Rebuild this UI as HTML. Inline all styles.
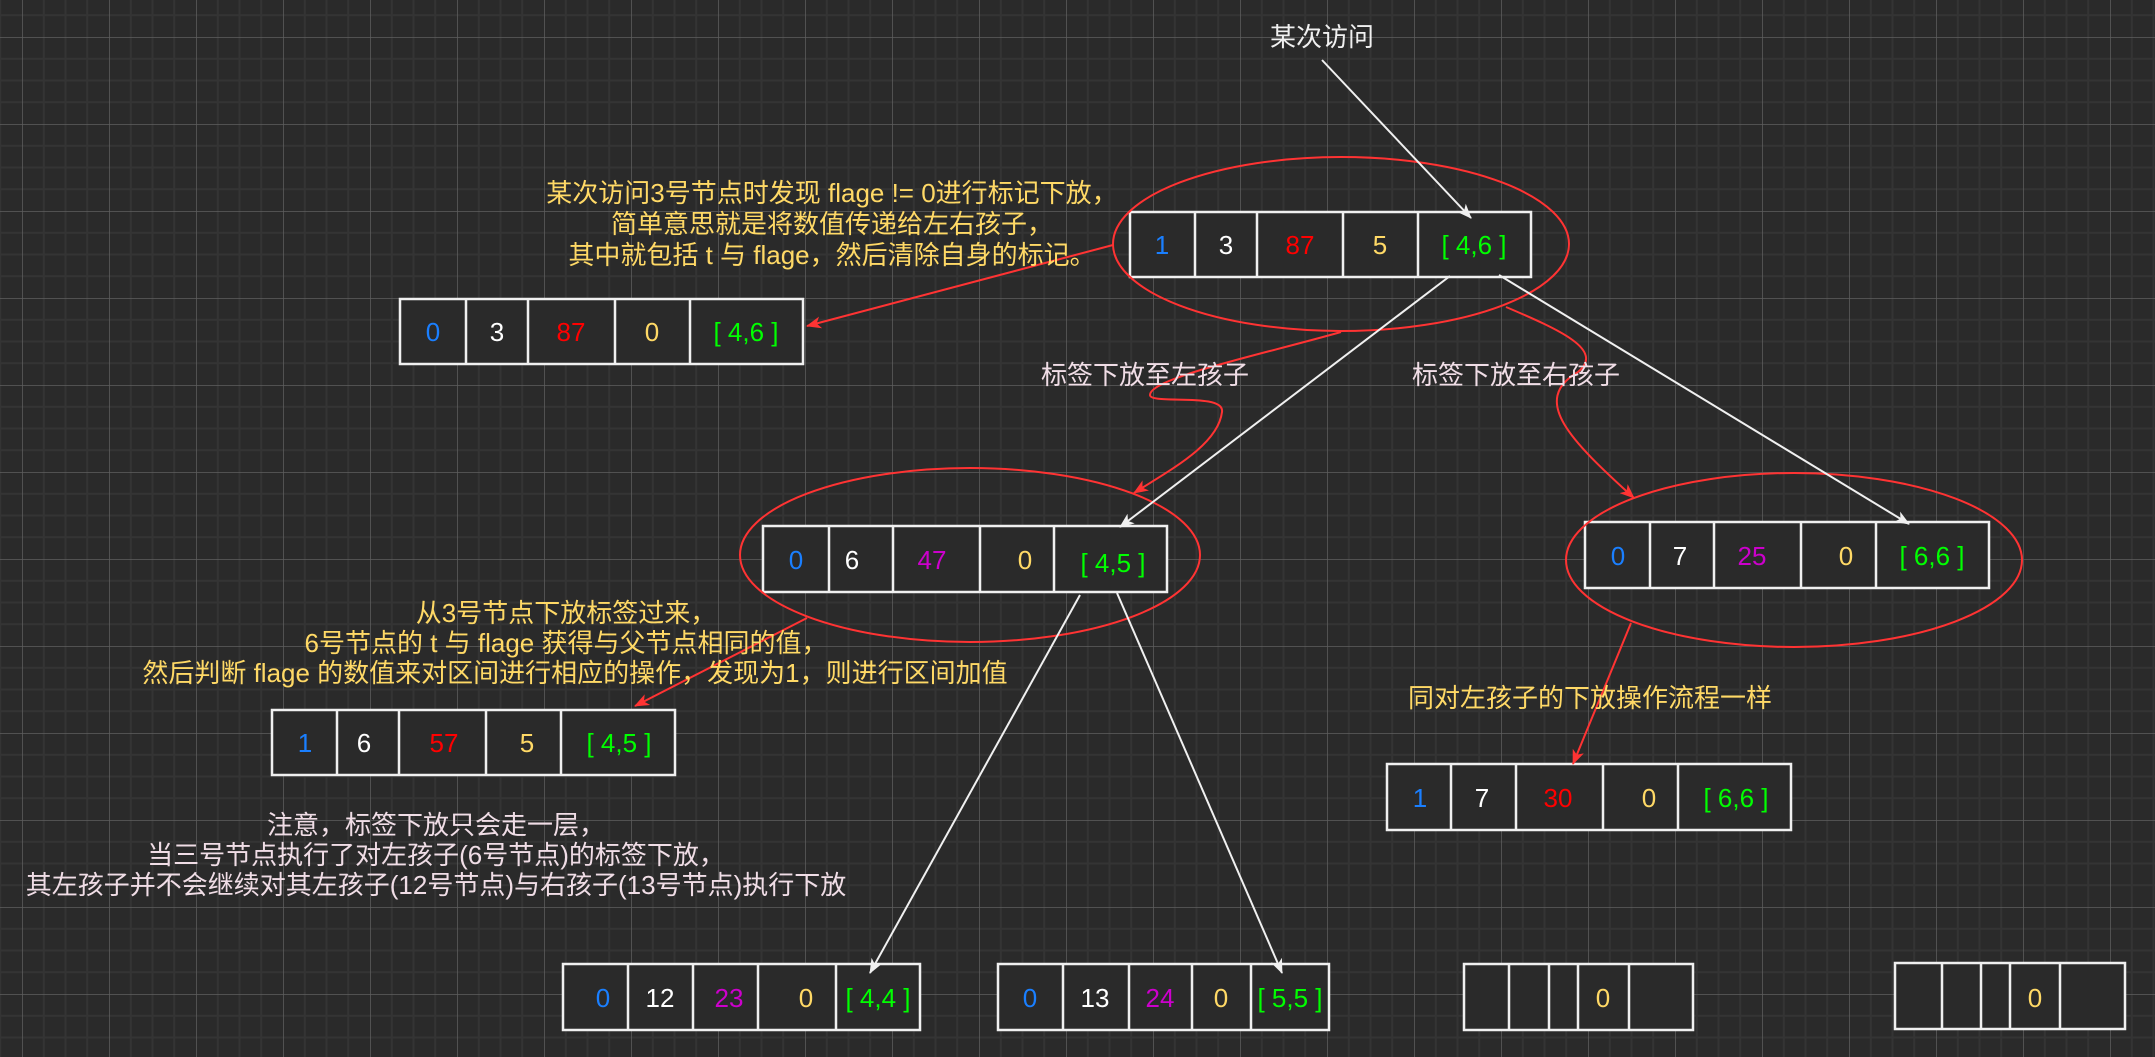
<!DOCTYPE html>
<html><head><meta charset="utf-8"><style>
html,body{margin:0;padding:0;background:#2a2a2a;}
svg{display:block;}
text{font-family:"Liberation Sans","Noto Sans CJK SC",sans-serif;}
</style></head><body>
<svg width="2155" height="1057" viewBox="0 0 2155 1057" xmlns="http://www.w3.org/2000/svg">
<defs>
<pattern id="g" x="22" y="37" width="87" height="87" patternUnits="userSpaceOnUse">
<path d="M21.75 0V87M43.5 0V87M65.25 0V87M0 21.75H87M0 43.5H87M0 65.25H87" stroke="#343434" stroke-width="2" fill="none"/>
<path d="M0 0V87M0 0H87" stroke="#5e5e5e" stroke-width="1.5" fill="none"/>
</pattern>
<marker id="aw" markerWidth="16" markerHeight="12" refX="14" refY="6" orient="auto" markerUnits="userSpaceOnUse"><path d="M0,0 L15,6 L0,12 L4,6z" fill="#f0f0f0"/></marker>
<marker id="ar" markerWidth="16" markerHeight="12" refX="14" refY="6" orient="auto" markerUnits="userSpaceOnUse"><path d="M0,0 L15,6 L0,12 L4,6z" fill="#ff3333"/></marker>
</defs>
<rect width="2155" height="1057" fill="#2a2a2a"/>
<rect width="2155" height="1057" fill="url(#g)"/>

<g fill="#2a2a2a" stroke="#f0f0f0" stroke-width="2.5">
<rect x="1130" y="212" width="401" height="65"/><path d="M1195 212V277M1257 212V277M1343 212V277M1418 212V277"/>
<rect x="400" y="299" width="403" height="65"/><path d="M466 299V364M528 299V364M615 299V364M690 299V364"/>
<rect x="763" y="526" width="404" height="66"/><path d="M829 526V592M893 526V592M980 526V592M1054 526V592"/>
<rect x="1585" y="522" width="404" height="66"/><path d="M1650 522V588M1714 522V588M1801 522V588M1876 522V588"/>
<rect x="272" y="710" width="403" height="65"/><path d="M337 710V775M399 710V775M486 710V775M561 710V775"/>
<rect x="1387" y="764" width="404" height="66"/><path d="M1451 764V830M1516 764V830M1603 764V830M1678 764V830"/>
<rect x="563" y="964" width="357" height="66"/><path d="M628 964V1030M693 964V1030M758 964V1030M836 964V1030"/>
<rect x="998" y="964" width="331" height="66"/><path d="M1063 964V1030M1129 964V1030M1192 964V1030M1251 964V1030"/>
<rect x="1464" y="964" width="229" height="66"/><path d="M1509 964V1030M1549 964V1030M1578 964V1030M1629 964V1030"/>
<rect x="1895" y="963" width="230" height="66"/><path d="M1942 963V1029M1981 963V1029M2010 963V1029M2060 963V1029"/>
</g>

<g font-size="26" text-anchor="middle">
<text x="1162" y="254" fill="#1a7fff">1</text><text x="1226" y="254" fill="#fff">3</text><text x="1300" y="254" fill="#ff0000">87</text><text x="1380" y="254" fill="#ffd966">5</text><text x="1474" y="254" fill="#00ff00">[ 4,6 ]</text>
<text x="433" y="341" fill="#1a7fff">0</text><text x="497" y="341" fill="#fff">3</text><text x="571" y="341" fill="#ff0000">87</text><text x="652" y="341" fill="#ffd966">0</text><text x="746" y="341" fill="#00ff00">[ 4,6 ]</text>
<text x="796" y="569" fill="#1a7fff">0</text><text x="852" y="569" fill="#fff">6</text><text x="932" y="569" fill="#cc00cc">47</text><text x="1025" y="569" fill="#ffd966">0</text><text x="1113" y="572" fill="#00ff00">[ 4,5 ]</text>
<text x="1618" y="565" fill="#1a7fff">0</text><text x="1680" y="565" fill="#fff">7</text><text x="1752" y="565" fill="#cc00cc">25</text><text x="1846" y="565" fill="#ffd966">0</text><text x="1932" y="565" fill="#00ff00">[ 6,6 ]</text>
<text x="305" y="752" fill="#1a7fff">1</text><text x="364" y="752" fill="#fff">6</text><text x="444" y="752" fill="#ff0000">57</text><text x="527" y="752" fill="#ffd966">5</text><text x="619" y="752" fill="#00ff00">[ 4,5 ]</text>
<text x="1420" y="807" fill="#1a7fff">1</text><text x="1482" y="807" fill="#fff">7</text><text x="1558" y="807" fill="#ff0000">30</text><text x="1649" y="807" fill="#ffd966">0</text><text x="1736" y="807" fill="#00ff00">[ 6,6 ]</text>
<text x="603" y="1007" fill="#1a7fff">0</text><text x="660" y="1007" fill="#fff">12</text><text x="729" y="1007" fill="#cc00cc">23</text><text x="806" y="1007" fill="#ffd966">0</text><text x="878" y="1007" fill="#00ff00">[ 4,4 ]</text>
<text x="1030" y="1007" fill="#1a7fff">0</text><text x="1095" y="1007" fill="#fff">13</text><text x="1160" y="1007" fill="#cc00cc">24</text><text x="1221" y="1007" fill="#ffd966">0</text><text x="1290" y="1007" fill="#00ff00">[ 5,5 ]</text>
<text x="1603" y="1007" fill="#ffd966">0</text>
<text x="2035" y="1007" fill="#ffd966">0</text>
</g>

<g fill="none" stroke="#ff3333" stroke-width="2">
<ellipse cx="1341" cy="244" rx="228" ry="87"/>
<ellipse cx="970" cy="555" rx="230" ry="87"/>
<ellipse cx="1794" cy="560" rx="228" ry="87"/>
<path d="M1113 245L807 326" marker-end="url(#ar)"/>
<path d="M1341 332C1260 355 1150 378 1150 395C1150 405 1225 392 1222 412C1218 445 1170 470 1134 493" marker-end="url(#ar)"/>
<path d="M1506 307C1560 330 1605 350 1578 372C1530 400 1570 440 1634 498" marker-end="url(#ar)"/>
<path d="M807 618L635 706" marker-end="url(#ar)"/>
<path d="M1631 623L1573 764" marker-end="url(#ar)"/>
</g>

<g stroke="#f0f0f0" stroke-width="2" fill="none">
<path d="M1322 60L1471 218" marker-end="url(#aw)"/>
<path d="M1450 276L1120 527" marker-end="url(#aw)"/>
<path d="M1499 275L1909 524" marker-end="url(#aw)"/>
<path d="M1080 595L870 973" marker-end="url(#aw)"/>
<path d="M1117 593L1282 973" marker-end="url(#aw)"/>
</g>

<g font-size="26" text-anchor="middle">
<text x="1322" y="46" fill="#f0f0f0">某次访问</text>
<g fill="#ffd966">
<text x="832" y="202">某次访问3号节点时发现 flage != 0进行标记下放，</text>
<text x="832" y="233">简单意思就是将数值传递给左右孩子，</text>
<text x="832" y="264">其中就包括 t 与 flage，然后清除自身的标记。</text>
<text x="566" y="622">从3号节点下放标签过来，</text>
<text x="566" y="652">6号节点的 t 与 flage 获得与父节点相同的值，</text>
<text x="575" y="682">然后判断 flage 的数值来对区间进行相应的操作，发现为1，则进行区间加值</text>
<text x="1590" y="707">同对左孩子的下放操作流程一样</text>
</g>
<g fill="#f0dde6">
<text x="1145" y="384">标签下放至左孩子</text>
<text x="1516" y="384">标签下放至右孩子</text>
<text x="436" y="834">注意，标签下放只会走一层，</text>
<text x="436" y="864">当三号节点执行了对左孩子(6号节点)的标签下放，</text>
<text x="436" y="894">其左孩子并不会继续对其左孩子(12号节点)与右孩子(13号节点)执行下放</text>
</g>
</g>
</svg>
</body></html>
